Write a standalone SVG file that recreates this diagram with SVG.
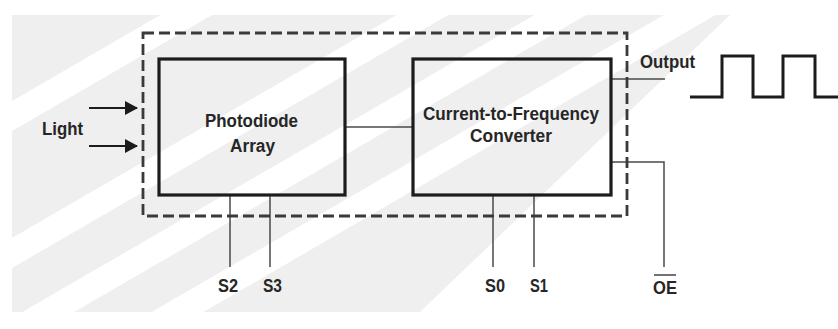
<svg xmlns="http://www.w3.org/2000/svg" width="838" height="329" viewBox="0 0 838 329">
<style>
.t{font-family:"Liberation Sans",Arial,sans-serif;font-weight:bold;font-size:18px;fill:#262626}
.box{fill:none;stroke:#1c1c1c;stroke-width:3.2}
.thin{fill:none;stroke:#4a4a4a;stroke-width:1.5}
.dash{fill:none;stroke:#3a3a3a;stroke-width:2.8;stroke-dasharray:11 5}
</style>
<defs>
<clipPath id="wm"><polygon points="12,15 730,15 420,312 12,312"/></clipPath>
<marker id="ah" markerWidth="13" markerHeight="14" refX="12" refY="7" orient="auto" markerUnits="userSpaceOnUse">
<path d="M0,0 L13,7 L0,14 Z" fill="#1c1c1c"/>
</marker>
</defs>
<rect width="838" height="329" fill="#ffffff"/>
<g id="watermark" clip-path="url(#wm)">
<rect x="12" y="15" width="720" height="297" fill="#efefef"/>
<polygon points="0,108 600,-240 600,-210 0,138" fill="#ffffff"/>
<polygon points="0,245 700,-161 700,-131 0,275" fill="#ffffff"/>
<polygon points="0,325 800,-139 800,-109 0,355" fill="#ffffff"/>
<polygon points="0,400 800,-64 800,-34 0,430" fill="#ffffff"/>
</g>
<g id="connectors">
<line x1="89" y1="108" x2="137" y2="108" stroke="#1c1c1c" stroke-width="2" marker-end="url(#ah)"/>
<line x1="89" y1="146" x2="137" y2="146" stroke="#1c1c1c" stroke-width="2" marker-end="url(#ah)"/>
<line class="thin" x1="345" y1="127" x2="413" y2="127"/>
<line class="thin" x1="611" y1="79" x2="665" y2="79"/>
<polyline class="thin" points="611,162 664,162 664,267"/>
<line class="thin" x1="230" y1="195" x2="230" y2="267"/>
<line class="thin" x1="270" y1="195" x2="270" y2="267"/>
<line class="thin" x1="493" y1="195" x2="493" y2="267"/>
<line class="thin" x1="534" y1="195" x2="534" y2="267"/>
<polyline points="690,97 722,97 722,56 753,56 753,97 783,97 783,56 815,56 815,97 838,97" fill="none" stroke="#1c1c1c" stroke-width="3"/>
</g>
<g id="package">
<rect class="dash" x="143" y="33" width="484" height="183"/>
</g>
<g id="photodiode">
<rect class="box" x="159" y="59" width="186" height="136"/>
<text class="t" x="205" y="127" textLength="93" lengthAdjust="spacingAndGlyphs">Photodiode</text>
<text class="t" x="230" y="152" textLength="45" lengthAdjust="spacingAndGlyphs">Array</text>
</g>
<g id="converter">
<rect class="box" x="413" y="59" width="198" height="136"/>
<text class="t" x="423" y="120" textLength="176" lengthAdjust="spacingAndGlyphs">Current-to-Frequency</text>
<text class="t" x="470" y="142" textLength="82" lengthAdjust="spacingAndGlyphs">Converter</text>
</g>
<g id="labels">
<text class="t" x="42" y="135" textLength="41" lengthAdjust="spacingAndGlyphs">Light</text>
<text class="t" x="640" y="68" textLength="55" lengthAdjust="spacingAndGlyphs">Output</text>
<text class="t" x="218" y="292" textLength="20" lengthAdjust="spacingAndGlyphs">S2</text>
<text class="t" x="263" y="292" textLength="19" lengthAdjust="spacingAndGlyphs">S3</text>
<text class="t" x="485" y="292" textLength="20" lengthAdjust="spacingAndGlyphs">S0</text>
<text class="t" x="530" y="292" textLength="18" lengthAdjust="spacingAndGlyphs">S1</text>
<text class="t" x="653" y="294" textLength="24" lengthAdjust="spacingAndGlyphs">OE</text>
<line x1="654" y1="275" x2="676" y2="275" stroke="#262626" stroke-width="1.3"/>
</g>
</svg>
